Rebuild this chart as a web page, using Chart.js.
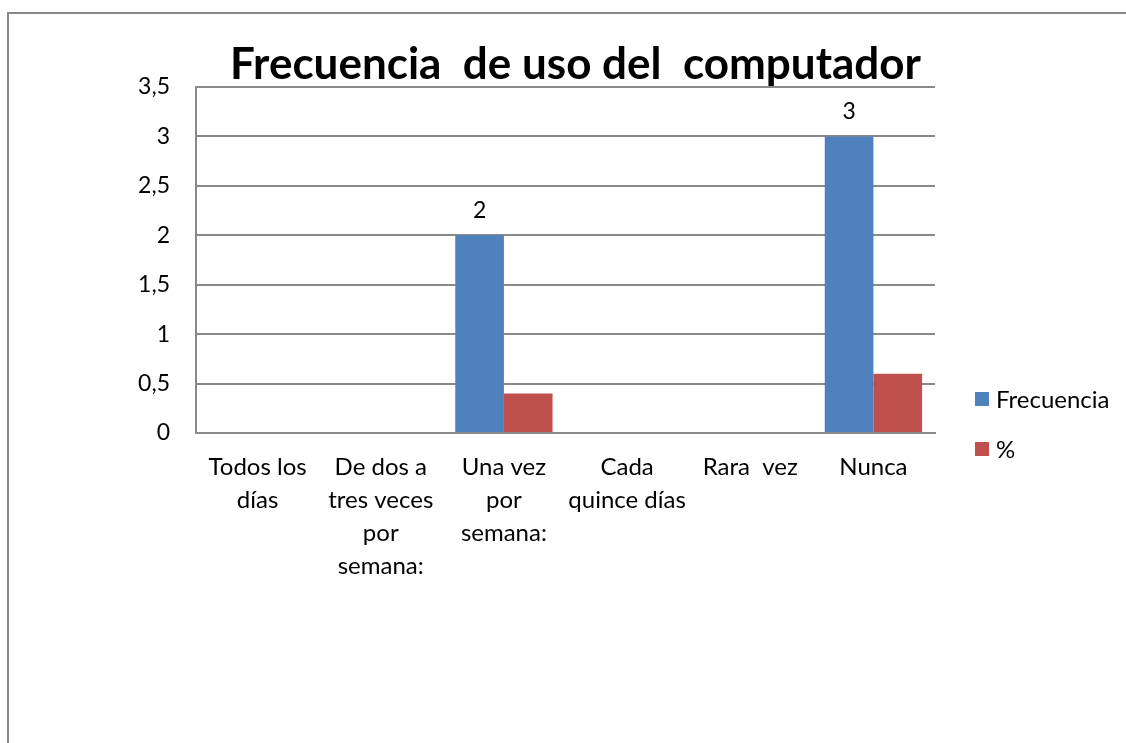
<!DOCTYPE html>
<html>
<head>
<meta charset="utf-8">
<script src="https://cdn.jsdelivr.net/npm/chart.js@4"></script>
<style>
  body { margin: 0; background: #fff; }
  canvas { display: block; }
</style>
</head>
<body>
<canvas id="grafico" width="1126" height="743"></canvas>
<script>
const categorias = [
  ['Todos los', 'días'],
  ['De dos a', 'tres veces', 'por', 'semana:'],
  ['Una vez', 'por', 'semana:'],
  ['Cada', 'quince días'],
  'Rara  vez',
  'Nunca'
];
const frecuencia = [0, 0, 2, 0, 0, 3];
const porcentaje = [0, 0, 0.4, 0, 0, 0.6];
const ticksY = ['0', '0,5', '1', '1,5', '2', '2,5', '3', '3,5'];

const FONTE = 'Lato, "Open Sans", sans-serif';
const CINZA = '#8a8a8a';

// moldura e fundo
const fundo = {
  id: 'fundo',
  afterLayout(chart) {
    // título um pouco à direita do centro da área, como no original
    chart.titleBlock.left += 10;
    chart.titleBlock.right += 10;
  },
  beforeDraw(chart) {
    const ctx = chart.ctx;
    ctx.save();
    ctx.fillStyle = '#fff';
    ctx.fillRect(0, 0, chart.width, chart.height);
    ctx.strokeStyle = CINZA;
    ctx.lineWidth = 2;
    ctx.beginPath();
    ctx.moveTo(8, chart.height + 5);
    ctx.lineTo(8, 13);
    ctx.lineTo(chart.width + 5, 13);
    ctx.stroke();
    ctx.restore();
  }
};

// rótulos de dados só na série Frecuencia
const rotulos = {
  id: 'rotulos',
  afterDatasetsDraw(chart) {
    const ctx = chart.ctx;
    const meta = chart.getDatasetMeta(0);
    ctx.save();
    ctx.font = '23px ' + FONTE;
    ctx.fillStyle = '#000';
    ctx.textAlign = 'center';
    ctx.textBaseline = 'middle';
    meta.data.forEach((bar, i) => {
      if (frecuencia[i] > 0) ctx.fillText(String(frecuencia[i]), bar.x, bar.y - 25);
    });
    ctx.restore();
  }
};

// legenda à direita
const legenda = {
  id: 'legenda',
  afterDraw(chart) {
    const ctx = chart.ctx;
    const x = chart.chartArea.right + 40;
    let y = chart.chartArea.bottom - 34;
    ctx.save();
    ctx.font = '24px ' + FONTE;
    ctx.textBaseline = 'middle';
    chart.data.datasets.forEach(ds => {
      ctx.fillStyle = ds.backgroundColor;
      ctx.fillRect(x, y - 7, 14, 14);
      ctx.fillStyle = '#000';
      ctx.fillText(ds.label, x + 21, y + 1);
      y += 50;
    });
    ctx.restore();
  }
};

new Chart(document.getElementById('grafico'), {
  type: 'bar',
  data: {
    labels: categorias,
    datasets: [
      { label: 'Frecuencia', data: frecuencia, backgroundColor: '#4F81BD' },
      { label: '%', data: porcentaje, backgroundColor: '#C0504D' }
    ]
  },
  options: {
    responsive: false,
    animation: false,
    layout: { padding: { top: 43, right: 191, left: 0, bottom: 0 } },
    datasets: { bar: { categoryPercentage: 0.79, barPercentage: 1 } },
    plugins: {
      legend: { display: false },
      tooltip: { enabled: false },
      title: {
        display: true,
        text: 'Frecuencia  de uso del  computador',
        fullSize: false,
        color: '#000',
        font: { family: FONTE, size: 44, weight: 'bold', lineHeight: 1.0 },
        padding: { top: 0, bottom: 0 }
      }
    },
    scales: {
      x: {
        grid: { display: false, drawTicks: false },
        border: { color: CINZA, width: 2 },
        ticks: {
          color: '#000',
          padding: 18,
          maxRotation: 0,
          autoSkip: false,
          font: { family: FONTE, size: 24, lineHeight: 1.375 }
        },
        afterFit(s) { s.height = 310; }
      },
      y: {
        min: 0,
        max: 3.5,
        grid: { color: CINZA, lineWidth: 2, drawTicks: false },
        border: { color: CINZA, width: 2 },
        ticks: {
          stepSize: 0.5,
          color: '#000',
          padding: 26,
          font: { family: FONTE, size: 23 },
          callback: (v, i) => ticksY[i]
        },
        afterFit(s) { s.width = 196; }
      }
    }
  },
  plugins: [fundo, rotulos, legenda]
});
</script>
</body>
</html>
